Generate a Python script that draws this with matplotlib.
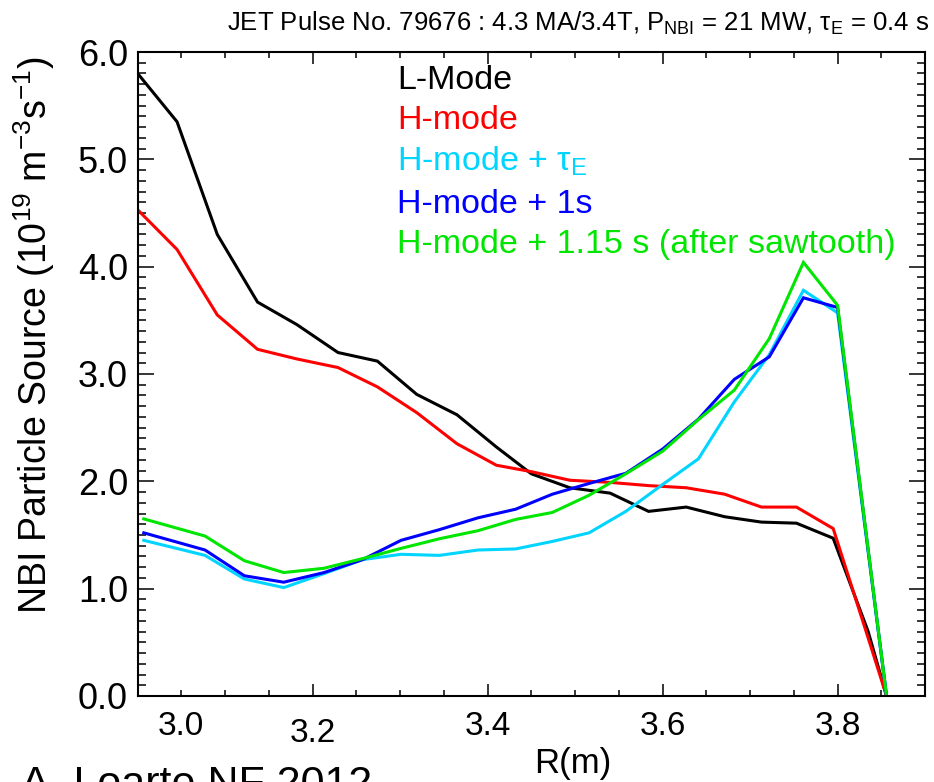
import matplotlib

matplotlib.use("Agg")
import matplotlib.pyplot as plt
from matplotlib.ticker import FixedLocator, MultipleLocator, FormatStrFormatter
from matplotlib.transforms import ScaledTranslation

plt.rcParams["font.family"] = ["Liberation Sans", "DejaVu Sans"]
plt.rcParams["mathtext.fontset"] = "custom"
plt.rcParams["mathtext.rm"] = "Liberation Sans"
plt.rcParams["mathtext.it"] = "Liberation Sans:italic"
plt.rcParams["mathtext.bf"] = "Liberation Sans:bold"

# radial grid used for the L-mode / H-mode profiles
r_lh = [3.000, 3.045, 3.091, 3.137, 3.182, 3.229, 3.274, 3.319, 3.365, 3.410, 3.450,
        3.494, 3.540, 3.584, 3.627, 3.671, 3.713, 3.753, 3.795, 3.835, 3.856]
l_mode = [5.80, 5.35, 4.30, 3.67, 3.46, 3.20, 3.12, 2.81, 2.62, 2.32, 2.07,
          1.94, 1.89, 1.72, 1.76, 1.67, 1.62, 1.61, 1.47, 0.60, 0.0]
h_mode = [4.53, 4.16, 3.55, 3.23, 3.14, 3.06, 2.88, 2.64, 2.35, 2.15, 2.09,
          2.01, 1.99, 1.96, 1.94, 1.88, 1.76, 1.76, 1.56, 0.54, 0.0]

# radial grid used for the later H-mode time slices
r_h = [3.007, 3.077, 3.122, 3.167, 3.213, 3.257, 3.301, 3.345, 3.389, 3.432,
       3.474, 3.516, 3.558, 3.600, 3.641, 3.682, 3.722, 3.761, 3.800, 3.856]
h_tau = [1.45, 1.31, 1.09, 1.01, 1.14, 1.27, 1.32, 1.31, 1.36, 1.37,
         1.44, 1.52, 1.72, 1.97, 2.21, 2.74, 3.18, 3.78, 3.57, 0.0]
h_1s = [1.52, 1.36, 1.12, 1.06, 1.15, 1.27, 1.45, 1.55, 1.66, 1.74,
        1.88, 1.98, 2.075, 2.30, 2.58, 2.95, 3.16, 3.71, 3.62, 0.0]
h_115s = [1.65, 1.49, 1.26, 1.15, 1.19, 1.28, 1.375, 1.465, 1.54, 1.645,
          1.71, 1.87, 2.07, 2.28, 2.575, 2.85, 3.33, 4.04, 3.64, 0.0]

labels = ["L-Mode", "H-mode", r"H-mode + τ$_\mathregular{E}$", "H-mode + 1s",
          "H-mode + 1.15 s (after sawtooth)"]
colors = ["black", "#ff0000", "#00d4ff", "#0000ff", "#00e600"]
x_ticks = [3.0, 3.2, 3.4, 3.6, 3.8]


def main() -> None:
    fig = plt.figure(figsize=(9.34, 7.82), dpi=100)
    ax = fig.add_axes([0.1474, 0.110, 0.8430, 0.8235])

    series = [(r_lh, l_mode), (r_lh, h_mode), (r_h, h_tau), (r_h, h_1s), (r_h, h_115s)]
    for (r, s), c in zip(series, colors):
        ax.plot(r, s, color=c, linewidth=2.2, solid_joinstyle="miter")

    ax.set_xlim(3.0, 3.9)
    ax.set_ylim(0.0, 6.0)
    ax.xaxis.set_major_locator(FixedLocator(x_ticks))
    ax.xaxis.set_minor_locator(MultipleLocator(0.05))
    ax.yaxis.set_major_locator(MultipleLocator(1.0))
    ax.yaxis.set_minor_locator(MultipleLocator(0.1))
    ax.xaxis.set_major_formatter(FormatStrFormatter("%.1f"))
    ax.yaxis.set_major_formatter(FormatStrFormatter("%.1f"))

    for side in ax.spines.values():
        side.set_linewidth(1.5)
    ax.tick_params(which="both", direction="in", top=True, right=True, width=1.1)
    ax.tick_params(axis="x", which="major", length=8.6, labelsize=24, pad=11)
    ax.tick_params(axis="x", which="minor", length=4.5)
    ax.tick_params(axis="y", which="major", length=11.5, labelsize=26, pad=7)
    ax.tick_params(axis="y", which="minor", length=6)

    # tick label nudges as in the original figure
    xticks = ax.xaxis.get_major_ticks()
    xticks[0].label1.set_transform(
        xticks[0].label1.get_transform() + ScaledTranslation(0.43, 0, fig.dpi_scale_trans))
    xticks[1].label1.set_transform(
        xticks[1].label1.get_transform() + ScaledTranslation(0, -0.07, fig.dpi_scale_trans))

    ax.set_xlabel("R(m)", fontsize=25, va="top")
    ax.xaxis.set_label_coords(0.553, -0.079)
    ax.set_ylabel(r"NBI Particle Source (10$^{\mathregular{19}}$ m$^{\mathregular{-3}}$s$^{\mathregular{-1}}$)",
                  fontsize=27)
    ax.yaxis.set_label_coords(-0.102, 0.56)

    baselines = [0.9425, 0.8804, 0.8152, 0.75, 0.6879]
    for text, c, yb in zip(labels, colors, baselines):
        ax.text(0.3293, yb, text, color=c, fontsize=24.5, transform=ax.transAxes,
                ha="left", va="baseline")

    fig.text(0.995, 0.988,
             r"JET Pulse No. 79676 : 4.3 MA/3.4T, P$_\mathregular{NBI}$ = 21 MW, τ$_\mathregular{E}$ = 0.4 s",
             fontsize=18.5, ha="right", va="top")
    fig.text(0.023, -0.018, "A. Loarte NF 2012", fontsize=31, ha="left", va="baseline")

    fig.savefig("out.png", dpi=100)
    plt.close(fig)


if __name__ == "__main__":
    main()
